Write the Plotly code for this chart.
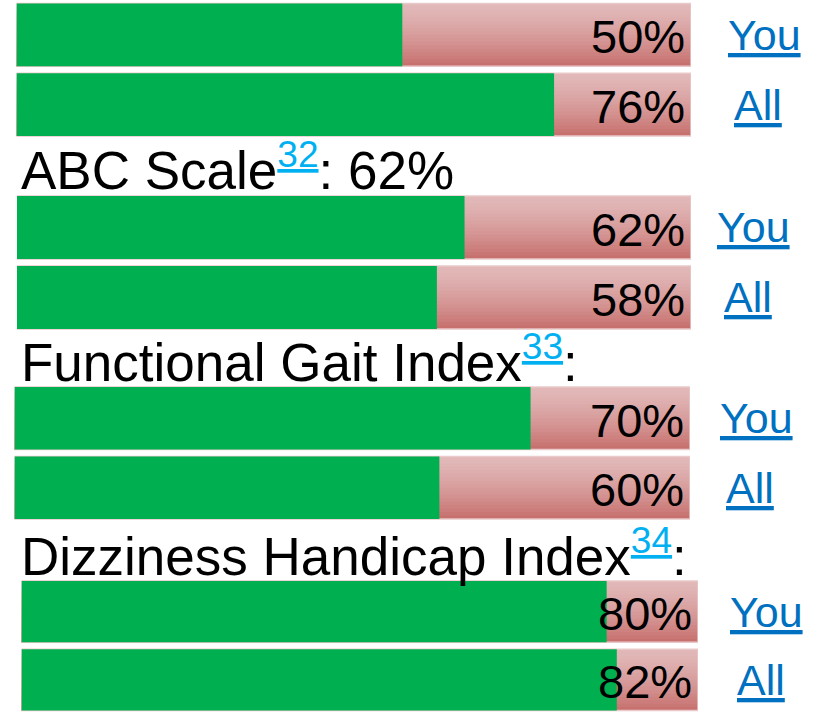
import plotly.graph_objects as go

# ---- data ----
groups = ["Top measure", "ABC Scale", "Functional Gait Index", "Dizziness Handicap Index"]
group_refs = ["", "32", "33", "34"]
group_suffix = ["", ": 62%", ":", ":"]
rows = ["You", "All"]
label_pct = [[50, 76], [62, 58], [70, 60], [80, 82]]        # printed values
bar_fill = [[57.2, 79.7], [66.4, 62.3], [76.4, 62.9], [86.5, 88.0]]  # drawn green length (% of track)
track_max = 100

# ---- layout helpers (pixel geometry of the slide) ----
W, H = 825, 714
def py(p):
    return 1 - p / H

y_domains = [(0, 139.5), (192.5, 332.5), (383.5, 522.5), (577.5, 714)]
x_domains = [(16.5, 691), (17, 691), (14.5, 690), (21.5, 698)]
title_y_px = [None, 166, 358, 552]
you_all_x = [[764, 758], [753, 748], [756, 750], [766, 761]]

GREEN = "#00B050"
TOP = (225, 183, 183)
BOT = (199, 113, 111)
NB = 18

fig = go.Figure()
layout_axes = {}
annotations = []

for g in range(4):
    ax = "" if g == 0 else str(g + 1)
    xa, ya = "x" + ax, "y" + ax
    # gradient track: stacked bands, each reaching to the bottom of the track
    for k in range(NB):
        t = k / (NB - 1)
        tt = t ** 1.4
        c = tuple(round(TOP[i] + (BOT[i] - TOP[i]) * tt) for i in range(3))
        fig.add_trace(go.Bar(
            y=rows, x=[track_max] * len(rows), orientation="h",
            xaxis=xa, yaxis=ya, offset=-0.45 + k * 0.9 / NB, width=0.9 - k * 0.9 / NB,
            marker=dict(color="rgb(%d,%d,%d)" % c, line=dict(width=0)),
            hoverinfo="skip", showlegend=False))
    # track border
    fig.add_trace(go.Bar(
        y=rows, x=[track_max] * len(rows), orientation="h", xaxis=xa, yaxis=ya,
        marker=dict(color="rgba(0,0,0,0)", line=dict(color="#E9C9C9", width=1.5)),
        hoverinfo="skip", showlegend=False))
    # green fill
    fig.add_trace(go.Bar(
        y=rows, x=bar_fill[g], orientation="h", xaxis=xa, yaxis=ya,
        marker=dict(color=GREEN, line=dict(width=0)),
        hoverinfo="skip", showlegend=False))

    top_px, bot_px = y_domains[g]
    x0, x1 = x_domains[g]
    layout_axes["xaxis" + ax] = dict(domain=[x0 / W, x1 / W], range=[0, track_max], visible=False,
                                     anchor=ya, fixedrange=True)
    layout_axes["yaxis" + ax] = dict(domain=[py(bot_px), py(top_px)], range=[1.5, -0.5],
                                     type="category", categoryorder="array", categoryarray=rows,
                                     visible=False, anchor=xa, fixedrange=True)

    for r, name in enumerate(rows):
        annotations.append(dict(
            xref=xa, yref=ya, x=track_max, y=name, text="%d%%" % label_pct[g][r],
            xanchor="right", yanchor="middle", xshift=-4, yshift=-2, showarrow=False,
            font=dict(family="Liberation Sans, Arial", size=47, color="black")))
        annotations.append(dict(
            xref="paper", yref=ya, x=you_all_x[g][r] / W, y=name, text=name,
            xanchor="center", yanchor="middle", yshift=0, showarrow=False,
            font=dict(family="Liberation Sans, Arial", size=43, color="#0070C0",
                      lineposition="under")))

    if title_y_px[g] is not None:
        txt = ("%s<sup><span style='color:#00B0F0;text-decoration:underline'>%s</span></sup>%s"
               % (groups[g], group_refs[g], group_suffix[g]))
        annotations.append(dict(
            xref="paper", yref="paper", x=19 / W, y=py(title_y_px[g]), text=txt,
            xanchor="left", yanchor="middle", showarrow=False,
            font=dict(family="Liberation Sans, Arial", size=53, color="black")))

fig.update_layout(
    width=W, height=H, margin=dict(l=0, r=0, t=0, b=0),
    paper_bgcolor="white", plot_bgcolor="rgba(0,0,0,0)",
    barmode="overlay", bargap=0.1, showlegend=False,
    annotations=annotations, **layout_axes)

fig.write_html("out.html", config={"displayModeBar": False},
               post_script="document.body.style.margin='0';document.body.style.overflow='hidden';")
